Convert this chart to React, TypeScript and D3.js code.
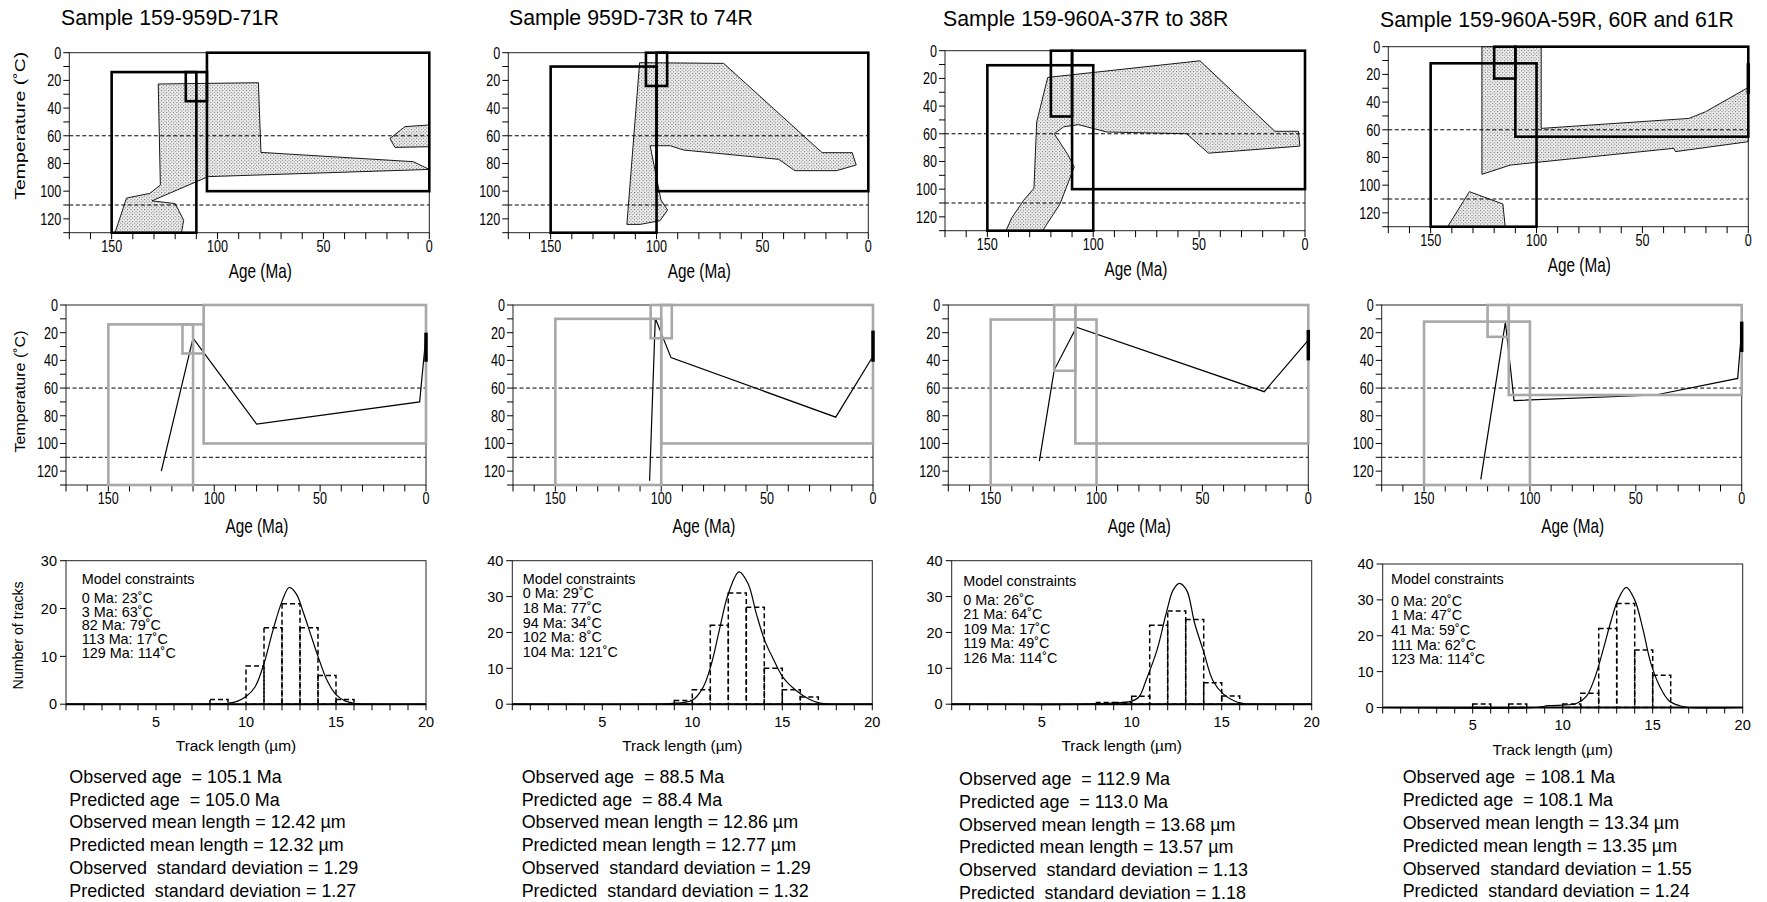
import React from 'react';
import * as d3 from 'd3';

const FONT = "'Liberation Sans', Arial, Helvetica, sans-serif";

// ---- labels and ticks ----
const titles = [
  'Sample 159-959D-71R',
  'Sample 959D-73R to 74R',
  'Sample 159-960A-37R to 38R',
  'Sample 159-960A-59R, 60R and 61R',
];
const ageTickLabels = [150, 100, 50, 0];
const tempTickLabels = [0, 20, 40, 60, 80, 100, 120];
const lengthTickLabels = [5, 10, 15, 20];
const histMax = [30, 40, 40, 40];
const isotherms = [60, 110];

// ---- envelopes of acceptable paths [age Ma, temp C] ----
const envelopes = [
  [
    [[128, 22.6], [80.7, 21.7], [79.5, 72], [7.6, 78.7], [0, 84.3], [104.4, 89.5], [131, 107], [120, 109], [116, 121], [117, 130], [148.4, 130], [143, 105], [132, 101.6], [127, 95.6]],
    [[18.6, 62], [11.5, 53.4], [0, 52.2], [0, 67.9], [16.2, 68.4]],
  ],
  [
    [[108, 7.2], [68.3, 7.7], [21.8, 72.2], [7.6, 72.2], [5.7, 81.1], [15, 85.2], [34.7, 85.2], [42.3, 77], [87.2, 70.3], [93.5, 67.2], [103, 67.2], [97.9, 106.4], [94.8, 113.6], [98.3, 121.3], [107.7, 124], [114, 124]],
  ],
  [
    [[121.5, 19.3], [49.6, 7.3], [14.2, 58.2], [3.1, 58.2], [2.4, 68.9], [45.6, 74], [55.9, 60], [93.7, 58.7], [107, 53.4], [114, 55], [118.4, 60], [112, 75], [109, 84], [111, 92], [115.7, 110.7], [123.9, 130], [141.2, 130], [138.5, 120.8], [133, 108.3], [128, 99.3], [126.7, 51.5]],
  ],
  [
    [[125.8, 0], [97.8, 0], [97.8, 59], [28.1, 51.8], [20.2, 47], [0, 29.4], [0, 68.6], [34.4, 75.8], [35.2, 73.4], [112.4, 85.5], [125.8, 92.2]],
    [[142, 130], [131.7, 104.7], [115.9, 113.6], [114.8, 130]],
  ],
];

// constraint boxes [oldAge, youngAge, tTop, tBottom]
const boxes = [
  [[150, 110, 14, 130], [115, 105, 14, 35], [105, 0, 0, 100]],
  [[150, 100, 10, 130], [105, 95, 0, 24], [100, 0, 0, 100]],
  [[150, 100, 10.5, 130], [120, 110, 0, 47.5], [110, 0, 0, 100]],
  [[150, 100, 12, 130], [120, 110, 0, 23], [110, 0, 0, 65]],
];

// present-day temperature range at 0 Ma
const presentBars = [[20, 41], [18.5, 41], [18, 40], [12, 34]];

// best-fit thermal histories
const bestPaths = [
  [[125, 120], [110, 24], [80, 86], [3, 70], [0, 22]],
  [[105.5, 127], [102.8, 9.6], [95.4, 38], [17.6, 81], [0, 37]],
  [[127, 112.7], [120, 47], [109.5, 16], [20.8, 62.6], [0, 25.3]],
  [[123.2, 126], [111.6, 12.5], [107.5, 69], [40.7, 65], [1.9, 53], [0, 18]],
];

// track length histograms [bin start um, count]
const histBins = [
  [[8, 1], [10, 8], [11, 16], [12, 21], [13, 16], [14, 6], [15, 1]],
  [[9, 1], [10, 4], [11, 22], [12, 31], [13, 27], [14, 10], [15, 4], [16, 2]],
  [[8, 0.5], [9, 0.5], [10, 2.2], [11, 22], [12, 26], [13, 23.6], [14, 6], [15, 2.3]],
  [[5, 1], [7, 1], [10, 1], [11, 4], [12, 22], [13, 29], [14, 16], [15, 9]],
];

// predicted length distributions
const predictedCurves = [
  [[0, 0], [7.5, 0], [8.5, 0.05], [9, 0.2], [9.5, 0.6], [10, 1.6], [10.5, 3.6], [11, 8.5], [11.5, 15.5], [12, 21.5], [12.4, 24.4], [12.8, 23], [13.2, 19], [13.6, 14.5], [14, 10], [14.5, 5], [15, 2], [15.5, 0.7], [16, 0.2], [17, 0], [20, 0]],
  [[0, 0], [8, 0], [8.75, 0.2], [10, 1.1], [10.6, 4.7], [11.06, 11.2], [11.5, 20.6], [12, 30.8], [12.6, 36.9], [13.1, 33.6], [13.56, 25.2], [14.02, 17.8], [14.5, 12.6], [15.04, 7.5], [15.8, 3.7], [16.5, 1.4], [17.1, 0.3], [17.6, 0], [20, 0]],
  [[0, 0], [7.5, 0], [8.06, 0.2], [9.9, 0.7], [10.4, 2], [10.8, 6.7], [11.4, 15], [11.94, 25.8], [12.3, 31.8], [12.65, 33.7], [13.05, 31.8], [13.5, 22.5], [14, 14.6], [14.5, 6.7], [15.1, 2.8], [15.8, 0.7], [16.2, 0.2], [16.8, 0], [20, 0]],
  [[0, 0], [8.5, 0], [9.2, 0.5], [10.76, 1.1], [11.3, 3], [11.77, 8.1], [12.24, 16], [12.7, 24.4], [13.07, 30], [13.53, 33.5], [14, 30], [14.45, 22], [14.9, 12.3], [15.4, 5.8], [15.9, 1.9], [16.5, 0.5], [17, 0], [20, 0]],
];

const constraints = [
  ['0 Ma: 23˚C', '3 Ma: 63˚C', '82 Ma: 79˚C', '113 Ma: 17˚C', '129 Ma: 114˚C'],
  ['0 Ma: 29˚C', '18 Ma: 77˚C', '94 Ma: 34˚C', '102 Ma: 8˚C', '104 Ma: 121˚C'],
  ['0 Ma: 26˚C', '21 Ma: 64˚C', '109 Ma: 17˚C', '119 Ma: 49˚C', '126 Ma: 114˚C'],
  ['0 Ma: 20˚C', '1 Ma: 47˚C', '41 Ma: 59˚C', '111 Ma: 62˚C', '123 Ma: 114˚C'],
];

const observedAge = ['105.1', '88.5', '112.9', '108.1'];
const predictedAge = ['105.0', '88.4', '113.0', '108.1'];
const observedMean = ['12.42', '12.86', '13.68', '13.34'];
const predictedMean = ['12.32', '12.77', '13.57', '13.35'];
const observedSd = ['1.29', '1.29', '1.13', '1.55'];
const predictedSd = ['1.27', '1.32', '1.18', '1.24'];

// ---- layout ----
const titlePos = [[61, 25], [509, 24.5], [943, 26], [1380, 26.5]];
const topPos = [[69.3, 52.7], [508.3, 52.7], [945, 50.7], [1388.3, 46.7]];
const midPos = [[66, 305], [513, 305], [948.3, 305], [1381.7, 305]];
const histPos = [[66, 560.7], [512.3, 560.7], [951.7, 560.7], [1382.7, 564]];
const constraintPos = [[81.7, 584.3, 602.7, 13.9], [522.7, 584.3, 598.3, 14.7], [963.3, 586, 605, 14.4], [1391, 584.3, 605.7, 14.6]];
const statsPos = [[69.3, 782.7], [521.7, 782.7], [959, 785], [1402.7, 783.3]];

const SY = 1.32; // vertical stretch of the panel lettering

function TempTime({ col, row }) {
  const [left, top] = row === 0 ? topPos[col] : midPos[col];
  const w = 360, h = 180;
  const x = d3.scaleLinear().domain([170, 0]).range([0, w]);
  const y = d3.scaleLinear().domain([0, 130]).range([0, h]);
  const boxColor = row === 0 ? '#000' : '#a8a8a8';
  const poly = d3.line().x(d => x(d[0])).y(d => y(d[1]));
  // in the upper row the 0 Ma bar is hidden behind the box edge except in the last sample
  const showBar = row === 1 || col === 3;
  return (
    <g transform={`translate(${left},${top})`}>
      {row === 0 && envelopes[col].map((p, i) => (
        <path key={i} d={poly(p) + 'Z'} fill="url(#stipple)" stroke="#000" strokeWidth={0.9} />
      ))}
      {isotherms.map(t => (
        <line key={t} x1={0} x2={w} y1={y(t)} y2={y(t)} stroke="#000" strokeWidth={1} strokeDasharray="4,2.5" />
      ))}
      <rect x={0} y={0} width={w} height={h} fill="none" stroke="#222" strokeWidth={1} />
      {d3.range(0, 171, 10).map(v => (
        <line key={v} x1={x(v)} x2={x(v)} y1={h} y2={h + 6.5} stroke="#000" strokeWidth={1} />
      ))}
      {d3.range(0, 131, 10).map(v => (
        <line key={v} x1={-6} x2={0} y1={y(v)} y2={y(v)} stroke="#000" strokeWidth={1} />
      ))}
      {ageTickLabels.map(v => (
        <text key={v} transform={`translate(${x(v)},${h + 19.2}) scale(1,${SY})`} textAnchor="middle" fontSize={12.6}>{v}</text>
      ))}
      {tempTickLabels.map(v => (
        <text key={v} transform={`translate(-8,${y(v) + 6}) scale(1,${SY})`} textAnchor="end" fontSize={12.6}>{v}</text>
      ))}
      <text transform={`translate(${w / 2 + 11},${h + (row === 0 ? 45.5 : 48)}) scale(1,1.3)`} textAnchor="middle" fontSize={15.3}>Age (Ma)</text>
      {col === 0 && (
        <text
          transform={`translate(${row === 0 ? -44.3 : -41},${row === 0 ? h / 2 - 17 : h / 2 - 3.5}) rotate(-90)`}
          textAnchor="middle" fontSize={15} textLength={row === 0 ? 148 : 122} lengthAdjust="spacingAndGlyphs"
        >Temperature (˚C)</text>
      )}
      {row === 1 && (
        <path d={poly(bestPaths[col])} fill="none" stroke="#000" strokeWidth={1.2} />
      )}
      {boxes[col].map((b, i) => (
        <rect key={i} x={x(b[0])} y={y(b[2])} width={x(b[1]) - x(b[0])} height={y(b[3]) - y(b[2])}
          fill="none" stroke={boxColor} strokeWidth={2.6} />
      ))}
      {showBar && (
        <line x1={x(0)} x2={x(0)} y1={y(presentBars[col][0])} y2={y(presentBars[col][1])} stroke="#000" strokeWidth={3.5} />
      )}
    </g>
  );
}

function Histogram({ col }) {
  const [left, top] = histPos[col];
  const w = 360, h = 143.5;
  const x = d3.scaleLinear().domain([0, 20]).range([0, w]);
  const y = d3.scaleLinear().domain([0, histMax[col]]).range([h, 0]);
  const curve = d3.line().x(d => x(d[0])).y(d => y(d[1])).curve(d3.curveCatmullRom.alpha(0.5));
  const [cx, hy, ly, dy] = constraintPos[col];
  return (
    <g transform={`translate(${left},${top})`}>
      <rect x={0} y={0} width={w} height={h} fill="none" stroke="#222" strokeWidth={1} />
      {histBins[col].map(([lo, n]) => (
        <rect key={lo} x={x(lo)} y={y(n)} width={x(lo + 1) - x(lo)} height={h - y(n)}
          fill="none" stroke="#000" strokeWidth={1.5} strokeDasharray="5,3" />
      ))}
      <path d={curve(predictedCurves[col])} fill="none" stroke="#000" strokeWidth={1.2} />
      <line x1={0} x2={w} y1={h} y2={h} stroke="#000" strokeWidth={2} />
      {d3.range(0, 21, 1).map(v => (
        <line key={v} x1={x(v)} x2={x(v)} y1={h} y2={h + 6} stroke="#000" strokeWidth={1} />
      ))}
      {d3.range(0, histMax[col] + 1, 10).map(v => (
        <g key={v}>
          <line x1={-6} x2={0} y1={y(v)} y2={y(v)} stroke="#000" strokeWidth={1} />
          <text x={-9} y={y(v) + 5.2} textAnchor="end" fontSize={14.5}>{v}</text>
        </g>
      ))}
      {lengthTickLabels.map(v => (
        <text key={v} x={x(v)} y={h + 22.4} textAnchor="middle" fontSize={14.5}>{v}</text>
      ))}
      <text x={w / 2 - 10} y={h + 47.2} textAnchor="middle" fontSize={15.4}>Track length (µm)</text>
      {col === 0 && (
        <text transform={`translate(-42.7,${h / 2 + 3}) rotate(-90)`} textAnchor="middle" fontSize={14.2}>Number of tracks</text>
      )}
      <text x={cx - left} y={hy - top} fontSize={14.4}>Model constraints</text>
      {constraints[col].map((s, i) => (
        <text key={s} x={cx - left} y={ly - top + i * dy} fontSize={14.4}>{s}</text>
      ))}
    </g>
  );
}

function Stats({ col }) {
  const [sx, sy] = statsPos[col];
  const lines = [
    `Observed age  = ${observedAge[col]} Ma`,
    `Predicted age  = ${predictedAge[col]} Ma`,
    `Observed mean length = ${observedMean[col]} µm`,
    `Predicted mean length = ${predictedMean[col]} µm`,
    `Observed  standard deviation = ${observedSd[col]}`,
    `Predicted  standard deviation = ${predictedSd[col]}`,
  ];
  return (
    <g>
      {lines.map((s, i) => (
        <text key={i} x={sx} y={sy + i * 22.8} fontSize={17.9} style={{ whiteSpace: 'pre' }}>{s}</text>
      ))}
    </g>
  );
}

export default function App() {
  const cols = [0, 1, 2, 3];
  return (
    <svg width={1767} height={902} style={{ position: 'absolute', left: 0, top: 0, background: '#fff' }}
      fontFamily={FONT} fill="#000">
      <defs>
        <pattern id="stipple" width="3.4" height="3.4" patternUnits="userSpaceOnUse">
          <rect width="3.4" height="3.4" fill="#efefef" />
          <rect x="0" y="0" width="1" height="1" fill="#666" />
          <rect x="1.7" y="1.7" width="1" height="1" fill="#666" />
        </pattern>
      </defs>
      <rect width={1767} height={902} fill="#fff" />
      {cols.map(c => (
        <text key={c} x={titlePos[c][0]} y={titlePos[c][1]} fontSize={21.3}>{titles[c]}</text>
      ))}
      {cols.map(c => <TempTime key={'t' + c} col={c} row={0} />)}
      {cols.map(c => <TempTime key={'m' + c} col={c} row={1} />)}
      {cols.map(c => <Histogram key={'h' + c} col={c} />)}
      {cols.map(c => <Stats key={'s' + c} col={c} />)}
    </svg>
  );
}
